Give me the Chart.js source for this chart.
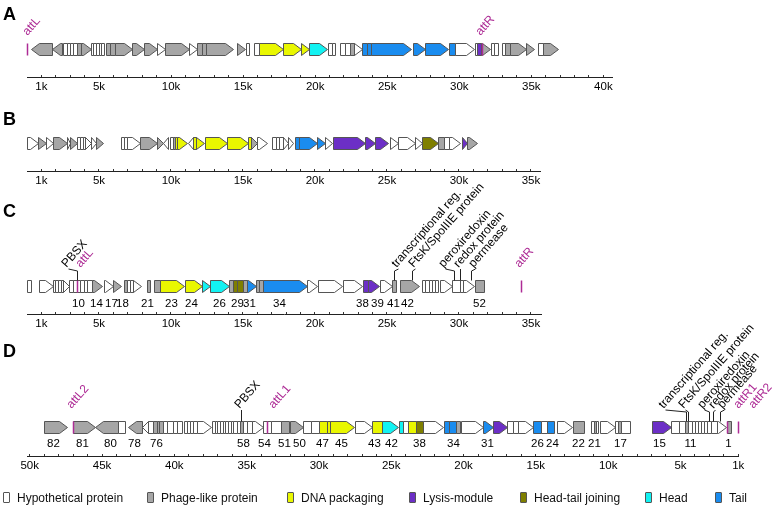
<!DOCTYPE html>
<html>
<head>
<meta charset="utf-8">
<script src="https://cdn.jsdelivr.net/npm/chart.js@4.4.1/dist/chart.umd.min.js"></script>
<style>
  body { margin: 0; background: #fff; }
  #wrap { position: relative; width: 779px; height: 508px; overflow: hidden; font-family: 'Liberation Sans', Arial, sans-serif; }
  #wrap canvas { position: absolute; left: 0; top: 0; }
  .lg { position: absolute; top: 491px; font-size: 12px; line-height: 14px; color: #111; white-space: nowrap; }
  .lg i { display: inline-block; width: 5px; height: 9px; border: 1px solid #555; border-radius: 1px; vertical-align: -1px; margin-right: 7px; }
</style>
</head>
<body>
<div id="wrap">
  <canvas id="panelA" width="779" height="508"></canvas>
  <canvas id="panelB" width="779" height="508"></canvas>
  <canvas id="panelC" width="779" height="508"></canvas>
  <canvas id="panelD" width="779" height="508"></canvas>
  <div id="legend"></div>
</div>
<script>
// gene = [tail kb, head kb, arrow (1) or box (0), category]
// categories: hyp, phage, dna, lysis, joint (head-tail joining), head, tail
const genesA = [
  [1.71, 0.26, 1, 'phage'], [2.41, 1.71, 1, 'phage'],
  [2.52, 2.76, 0, 'hyp'], [2.76, 2.99, 0, 'hyp'], [2.99, 3.22, 0, 'hyp'], [3.22, 3.50, 0, 'hyp'],
  [3.50, 3.73, 0, 'phage'], [3.73, 4.42, 1, 'phage'],
  [4.42, 4.61, 0, 'hyp'], [4.61, 4.79, 0, 'hyp'], [4.79, 4.98, 0, 'hyp'], [4.98, 5.16, 0, 'hyp'], [5.16, 5.35, 0, 'hyp'],
  [5.49, 5.76, 0, 'phage'], [5.76, 6.11, 0, 'phage'], [6.11, 7.27, 1, 'phage'],
  [7.27, 8.13, 1, 'phage'], [8.13, 9.05, 1, 'phage'], [9.05, 9.58, 1, 'hyp'],
  [9.58, 11.27, 1, 'phage'], [11.27, 11.78, 1, 'hyp'],
  [11.78, 12.13, 0, 'phage'], [12.13, 12.43, 0, 'phage'], [12.43, 14.27, 1, 'phage'],
  [14.6, 15.14, 1, 'phage'], [15.19, 15.42, 0, 'hyp'], [15.76, 16.13, 0, 'hyp'],
  [16.13, 17.8, 1, 'dna'], [17.8, 19.0, 1, 'dna'], [19.0, 19.6, 1, 'dna'], [19.6, 20.85, 1, 'head'],
  [20.92, 21.15, 0, 'hyp'], [21.15, 21.39, 0, 'hyp'],
  [21.69, 22.08, 0, 'hyp'], [22.08, 22.43, 0, 'hyp'], [22.43, 22.71, 0, 'phage'], [22.71, 23.24, 1, 'hyp'],
  [23.28, 23.63, 0, 'tail'], [23.63, 23.86, 0, 'tail'], [23.86, 26.67, 1, 'tail'],
  [26.76, 27.59, 1, 'tail'], [27.64, 29.2, 1, 'tail'], [29.26, 29.72, 0, 'tail'], [29.72, 31.0, 1, 'hyp'],
  [31.06, 31.23, 0, 'hyp'], [31.23, 31.5, 0, 'lysis'], [31.5, 32.15, 1, 'phage'],
  [32.2, 32.43, 0, 'hyp'], [32.43, 32.66, 0, 'hyp'],
  [32.96, 33.2, 0, 'hyp'], [33.2, 33.49, 0, 'phage'], [33.49, 34.65, 1, 'phage'], [34.65, 35.21, 1, 'phage'],
  [35.44, 35.81, 0, 'hyp'], [35.81, 36.83, 1, 'phage']
];
const genesB = [
  [0.0, 0.79, 1, 'hyp'], [0.79, 1.32, 1, 'phage'], [1.32, 1.78, 1, 'hyp'], [1.78, 2.75, 1, 'phage'],
  [2.75, 3.0, 1, 'hyp'], [3.0, 3.5, 1, 'phage'], [3.5, 3.68, 0, 'hyp'], [3.68, 3.87, 0, 'hyp'], [3.87, 4.03, 0, 'hyp'],
  [4.03, 4.42, 1, 'hyp'], [4.42, 4.79, 1, 'hyp'], [4.79, 5.30, 1, 'phage'],
  [6.5, 6.74, 0, 'hyp'], [6.74, 6.97, 0, 'hyp'], [6.97, 7.85, 1, 'hyp'], [7.85, 9.0, 1, 'phage'], [9.0, 9.47, 1, 'phage'],
  [9.81, 9.47, 1, 'hyp'], [9.93, 10.12, 0, 'hyp'], [10.12, 10.28, 0, 'phage'], [10.28, 10.44, 0, 'dna'], [10.44, 11.09, 1, 'dna'],
  [11.55, 11.2, 1, 'hyp'], [11.55, 11.74, 0, 'dna'], [11.74, 12.29, 1, 'dna'], [12.36, 13.87, 1, 'dna'], [13.91, 15.37, 1, 'dna'],
  [15.37, 15.53, 0, 'dna'], [15.53, 15.99, 1, 'phage'], [15.99, 16.64, 1, 'hyp'],
  [16.99, 17.27, 0, 'hyp'], [17.27, 17.52, 0, 'hyp'], [17.52, 17.8, 0, 'hyp'], [17.8, 18.15, 1, 'hyp'], [18.15, 18.5, 1, 'hyp'],
  [18.6, 18.91, 0, 'tail'], [18.91, 20.16, 1, 'tail'], [20.16, 20.69, 1, 'tail'], [20.69, 21.16, 1, 'hyp'],
  [21.27, 23.47, 1, 'lysis'], [23.47, 24.17, 1, 'lysis'], [24.17, 25.09, 1, 'lysis'],
  [25.21, 25.79, 1, 'hyp'], [25.79, 26.94, 1, 'hyp'], [26.94, 27.41, 1, 'hyp'], [27.41, 28.56, 1, 'joint'],
  [28.56, 28.96, 0, 'phage'], [28.96, 29.3, 0, 'hyp'], [29.3, 30.07, 1, 'hyp'], [30.19, 30.58, 1, 'lysis'], [30.58, 31.23, 1, 'phage']
];
const genesC = [
  [0.02, 0.26, 0, 'hyp'], [0.86, 1.78, 1, 'hyp'],
  [1.78, 1.97, 0, 'hyp'], [1.97, 2.14, 0, 'hyp'], [2.14, 2.33, 0, 'hyp'], [2.33, 2.52, 0, 'hyp'], [2.52, 2.94, 1, 'hyp'],
  [2.94, 3.22, 0, 'hyp'], [3.22, 3.45, 0, 'hyp'], [3.45, 3.68, 0, 'hyp'], [3.68, 3.96, 0, 'hyp'], [3.96, 4.19, 0, 'hyp'], [4.19, 4.49, 0, 'hyp'],
  [4.49, 5.19, 1, 'phage'], [5.35, 5.95, 1, 'hyp'], [5.95, 6.5, 1, 'phage'],
  [6.74, 6.92, 0, 'phage'], [6.92, 7.15, 0, 'hyp'], [7.15, 7.38, 0, 'hyp'], [7.38, 7.9, 1, 'hyp'],
  [8.31, 8.54, 0, 'phage'],
  [8.82, 9.24, 0, 'phage'], [9.24, 10.9, 1, 'dna'], [10.97, 12.13, 1, 'dna'], [12.13, 12.71, 1, 'head'], [12.71, 14.05, 1, 'head'],
  [14.05, 14.33, 0, 'phage'], [14.33, 14.6, 0, 'joint'], [14.6, 14.98, 0, 'joint'], [14.98, 15.3, 0, 'phage'], [15.3, 15.9, 1, 'tail'],
  [15.9, 16.13, 0, 'phage'], [16.13, 16.41, 0, 'phage'], [16.41, 19.47, 1, 'tail'],
  [19.47, 20.16, 1, 'hyp'], [20.23, 21.85, 1, 'hyp'], [21.92, 23.24, 1, 'hyp'], [23.31, 23.7, 0, 'lysis'], [23.7, 24.44, 1, 'lysis'],
  [24.51, 25.32, 1, 'hyp'], [25.37, 25.62, 0, 'phage'], [25.9, 27.24, 1, 'phage'],
  [27.45, 27.67, 0, 'hyp'], [27.67, 27.9, 0, 'hyp'], [27.9, 28.12, 0, 'hyp'], [28.12, 28.34, 0, 'hyp'], [28.34, 28.56, 0, 'hyp'],
  [28.67, 29.55, 1, 'hyp'], [29.55, 30.06, 0, 'hyp'], [30.06, 30.29, 0, 'hyp'], [30.29, 31.03, 1, 'hyp'], [31.1, 31.72, 0, 'phage']
];
const genesD = [
  [49.01, 47.44, 1, 'phage'], [47.0, 45.5, 1, 'phage'], [43.87, 45.5, 1, 'phage'], [43.87, 43.41, 0, 'hyp'],
  [42.26, 43.18, 1, 'phage'], [41.8, 42.26, 1, 'hyp'],
  [41.8, 41.5, 0, 'hyp'], [41.5, 41.22, 0, 'phage'], [41.22, 41.04, 0, 'phage'], [41.04, 40.77, 0, 'phage'],
  [40.77, 40.53, 0, 'hyp'], [40.53, 40.07, 0, 'hyp'], [40.07, 39.79, 0, 'hyp'], [39.79, 39.49, 0, 'hyp'],
  [39.33, 39.10, 0, 'hyp'], [39.10, 38.91, 0, 'hyp'], [38.91, 38.69, 0, 'hyp'], [38.69, 38.45, 0, 'hyp'], [38.45, 37.48, 1, 'hyp'],
  [37.41, 37.19, 0, 'hyp'], [37.19, 37.03, 0, 'hyp'], [37.03, 36.84, 0, 'hyp'], [36.84, 36.66, 0, 'hyp'], [36.66, 36.47, 0, 'hyp'],
  [36.47, 36.29, 0, 'hyp'], [36.29, 36.10, 0, 'hyp'], [36.10, 35.92, 0, 'hyp'], [35.92, 35.68, 0, 'hyp'], [35.68, 35.46, 0, 'hyp'],
  [35.46, 35.27, 0, 'phage'], [35.27, 34.99, 0, 'hyp'], [34.99, 34.65, 0, 'hyp'], [34.65, 33.85, 1, 'hyp'],
  [33.85, 33.61, 0, 'hyp'], [33.61, 33.33, 0, 'hyp'], [33.33, 32.6, 0, 'hyp'], [32.6, 32.1, 0, 'phage'], [32.0, 31.12, 1, 'phage'],
  [31.08, 30.57, 0, 'hyp'], [30.57, 29.97, 0, 'hyp'], [29.97, 29.46, 0, 'dna'], [29.46, 29.23, 0, 'dna'], [29.23, 27.57, 1, 'dna'],
  [27.5, 26.35, 1, 'hyp'], [26.31, 25.66, 0, 'dna'], [25.66, 24.51, 1, 'head'], [24.44, 24.2, 0, 'head'], [24.2, 23.82, 0, 'hyp'],
  [23.82, 23.28, 0, 'dna'], [23.28, 22.82, 0, 'joint'], [22.78, 21.44, 1, 'hyp'],
  [21.35, 20.98, 0, 'tail'], [20.98, 20.52, 0, 'tail'], [20.52, 20.24, 0, 'phage'], [20.19, 18.67, 1, 'hyp'],
  [18.63, 17.98, 1, 'tail'], [17.94, 17.01, 1, 'lysis'],
  [16.97, 16.56, 0, 'hyp'], [16.56, 16.21, 0, 'hyp'], [16.21, 15.21, 1, 'hyp'],
  [15.21, 14.66, 0, 'tail'], [14.66, 14.2, 0, 'hyp'], [14.2, 13.74, 0, 'tail'], [13.51, 12.52, 1, 'hyp'], [12.45, 11.67, 0, 'phage'],
  [11.2, 10.98, 0, 'hyp'], [10.98, 10.84, 0, 'phage'], [10.84, 10.69, 0, 'hyp'], [10.56, 9.52, 1, 'hyp'],
  [9.52, 9.29, 0, 'hyp'], [9.29, 9.12, 0, 'phage'], [9.12, 8.48, 0, 'hyp'],
  [6.98, 5.67, 1, 'lysis'], [5.67, 5.08, 0, 'hyp'], [5.08, 4.68, 0, 'hyp'], [4.68, 4.45, 0, 'phage'],
  [4.45, 4.2, 0, 'hyp'], [4.2, 3.99, 0, 'hyp'], [3.99, 3.78, 0, 'hyp'], [3.78, 3.58, 0, 'hyp'], [3.58, 3.37, 0, 'hyp'],
  [3.37, 3.16, 0, 'hyp'], [3.16, 2.88, 0, 'hyp'], [2.88, 2.49, 0, 'hyp'], [2.49, 1.85, 1, 'hyp'], [1.8, 1.52, 0, 'phage']
];

// attachment sites (kb)
const attA = [0.02, 31.57];
const attC = [3.5, 34.28];
const attD = [47.03, 33.61, 1.75, 1.02];

// gene numbers [kb, label]
const numC = [[3.56, '10'], [4.79, '14'], [5.83, '17'], [6.58, '18'], [8.33, '21'], [10.0, '23'], [11.39, '24'],
  [13.31, '26'], [14.58, '29'], [15.42, '31'], [17.53, '34'], [23.26, '38'], [24.31, '39'], [25.4, '41'], [26.37, '42'], [31.38, '52']];
const numD = [[48.39, '82'], [46.38, '81'], [44.47, '80'], [42.79, '78'], [41.27, '76'], [35.26, '58'], [33.81, '54'], [32.41, '51'],
  [31.36, '50'], [29.77, '47'], [28.47, '45'], [26.19, '43'], [25.01, '42'], [23.08, '38'], [20.73, '34'], [18.4, '31'],
  [14.92, '26'], [13.88, '24'], [12.06, '22'], [10.97, '21'], [9.18, '17'], [6.48, '15'], [4.34, '11'], [1.74, '1']];

// annotations [gene kb or null, text start kb, text]
const labelsA = [[null, 0.0, 'attL'], [null, 31.46, 'attR']];
const labelsC = [[3.45, 2.71, 'PBSX'], [null, 3.68, 'attL'], [25.51, 25.63, 'transcriptional reg.'],
  [26.72, 26.81, 'FtsK/SpoIIIE protein'], [29.65, 28.91, 'peroxiredoxin'], [30.09, 29.95, 'redox protein'],
  [30.81, 30.99, 'permease'], [null, 34.17, 'attR']];
const labelsD = [[null, 47.14, 'attL2'], [35.41, 35.53, 'PBSX'], [null, 33.17, 'attL1'],
  [4.63, 6.2, 'transcriptional reg.'], [4.45, 4.82, 'FtsK/SpoIIIE protein'], [3.02, 3.53, 'peroxiredoxin'],
  [2.77, 2.77, 'redox protein'], [2.26, 2.12, 'permease'], [null, 1.02, 'attR1'], [null, -0.02, 'attR2']];

// axis tick labels (kb)
const tickLabelsA = [1, 5, 10, 15, 20, 25, 30, 35, 40];
const tickLabelsBC = [1, 5, 10, 15, 20, 25, 30, 35];
const tickLabelsD = [50, 45, 40, 35, 30, 25, 20, 15, 10, 5, 1];

const legendItems = [['Hypothetical protein', 'hyp'], ['Phage-like protein', 'phage'], ['DNA packaging', 'dna'],
  ['Lysis-module', 'lysis'], ['Head-tail joining', 'joint'], ['Head', 'head'], ['Tail', 'tail']];

const COLORS = {
  hyp: '#ffffff', phage: '#a6a6a6', dna: '#e9f700', lysis: '#6c2fc6',
  joint: '#7f7f00', head: '#12f2f2', tail: '#1a8cef'
};
const ATT = '#ad2b95';
const FONT = "'Liberation Sans', Arial, sans-serif";

Chart.defaults.font.family = FONT;
Chart.defaults.color = '#000';

function intRange(a, b) {
  const out = [];
  for (let v = a; v <= b; v++) out.push(v);
  return out;
}

function genePlugin(p) {
  return {
    id: 'genes',
    afterDraw(chart) {
      const ctx = chart.ctx;
      const xs = chart.scales.x;
      const px = v => Math.round(xs.getPixelForValue(v)) + 0.5;
      const top = p.geneTop + 0.5, h = 12;

      ctx.save();
      ctx.fillStyle = '#000';
      ctx.font = 'bold 18px ' + FONT;
      ctx.fillText(p.letter, 3, p.letterY);

      ctx.lineWidth = 1;
      ctx.strokeStyle = '#555';
      p.genes.forEach(([a, b, arrow, cat]) => {
        const x1 = px(a), x2 = px(b);
        ctx.beginPath();
        if (!arrow) {
          ctx.rect(Math.min(x1, x2), top, Math.abs(x2 - x1), h);
        } else {
          const d = Math.sign(x2 - x1);
          const hl = Math.min(8, Math.abs(x2 - x1));
          const xb = x2 - d * hl;
          ctx.moveTo(x1, top);
          ctx.lineTo(xb, top);
          ctx.lineTo(x2, top + h / 2);
          ctx.lineTo(xb, top + h);
          ctx.lineTo(x1, top + h);
          ctx.closePath();
        }
        ctx.fillStyle = COLORS[cat];
        ctx.fill();
        ctx.stroke();
      });

      ctx.strokeStyle = ATT;
      ctx.lineWidth = 1.5;
      p.att.forEach(v => {
        const x = px(v);
        ctx.beginPath();
        ctx.moveTo(x, top);
        ctx.lineTo(x, top + h);
        ctx.stroke();
      });

      ctx.fillStyle = '#000';
      ctx.font = '11.5px ' + FONT;
      ctx.textAlign = 'center';
      (p.nums || []).forEach(([v, t]) => ctx.fillText(t, px(v), p.numY));

      ctx.textAlign = 'left';
      ctx.font = '12px ' + FONT;
      ctx.lineWidth = 1;
      ctx.strokeStyle = '#222';
      p.labels.forEach(([g, t, text]) => {
        const tx = px(t), ty = p.labelY;
        if (g !== null) {
          const gx = px(g);
          ctx.beginPath();
          ctx.moveTo(gx, top);
          ctx.lineTo(gx, ty + 3);
          ctx.lineTo(tx + 2, ty + 1);
          ctx.stroke();
        }
        ctx.save();
        ctx.translate(tx, ty);
        ctx.rotate(-0.85);
        ctx.fillStyle = text.startsWith('att') ? ATT : '#000';
        ctx.fillText(text, 0, 0);
        ctx.restore();
      });
      ctx.restore();
    }
  };
}

function makePanel(id, p) {
  // tick order must follow the drawing direction of the axis
  const marks = p.reverse ? p.tickMarks.slice().reverse() : p.tickMarks;
  return new Chart(document.getElementById(id), {
    type: 'scatter',
    data: { datasets: [{ data: [] }] },
    options: {
      responsive: false,
      animation: false,
      events: [],
      layout: { padding: { left: 27, right: 779 - p.axisEnd, top: 0, bottom: 0 } },
      plugins: { legend: { display: false }, tooltip: { enabled: false } },
      scales: {
        y: { display: false, min: 0, max: 508, reverse: true },
        x: {
          type: 'linear',
          min: p.min,
          max: p.max,
          reverse: !!p.reverse,
          position: { y: p.axisY },
          border: { display: true, color: '#222', width: 1 },
          grid: { display: true, drawOnChartArea: false, drawTicks: true, tickLength: -3, tickColor: '#333' },
          ticks: {
            autoSkip: false, maxRotation: 0, minRotation: 0, padding: 6, color: '#000',
            font: { size: 11.5 },
            callback: v => p.tickLabels.includes(v) ? v + 'k' : ''
          },
          afterBuildTicks: s => { s.ticks = marks.map(v => ({ value: v })); }
        }
      }
    },
    plugins: [genePlugin(p)]
  });
}

makePanel('panelA', {
  letter: 'A', letterY: 20, genes: genesA, att: attA, labels: labelsA, labelY: 36,
  geneTop: 43, axisY: 77, axisEnd: 612, min: 0, max: 40.6,
  tickLabels: tickLabelsA, tickMarks: intRange(1, 40)
});
makePanel('panelB', {
  letter: 'B', letterY: 125, genes: genesB, att: [], labels: [], labelY: 0,
  geneTop: 137, axisY: 171, axisEnd: 540, min: 0, max: 35.63,
  tickLabels: tickLabelsBC, tickMarks: intRange(1, 35)
});
makePanel('panelC', {
  letter: 'C', letterY: 217, genes: genesC, att: attC, labels: labelsC, labelY: 268,
  nums: numC, numY: 307,
  geneTop: 280, axisY: 314, axisEnd: 541, min: 0, max: 35.7,
  tickLabels: tickLabelsBC, tickMarks: intRange(1, 35)
});
makePanel('panelD', {
  letter: 'D', letterY: 357, genes: genesD, att: attD, labels: labelsD, labelY: 409,
  nums: numD, numY: 447,
  geneTop: 421, axisY: 456, axisEnd: 738, min: 1.02, max: 50.19, reverse: true,
  tickLabels: tickLabelsD, tickMarks: intRange(1, 50)
});

// legend
const legendLeft = [3, 147, 287, 409, 520, 645, 715];
const legend = document.getElementById('legend');
legendItems.forEach(([text, cat], i) => {
  const el = document.createElement('div');
  el.className = 'lg';
  el.style.left = legendLeft[i] + 'px';
  el.innerHTML = '<i style="background:' + COLORS[cat] + '"></i>' + text;
  legend.appendChild(el);
});
</script>
</body>
</html>
